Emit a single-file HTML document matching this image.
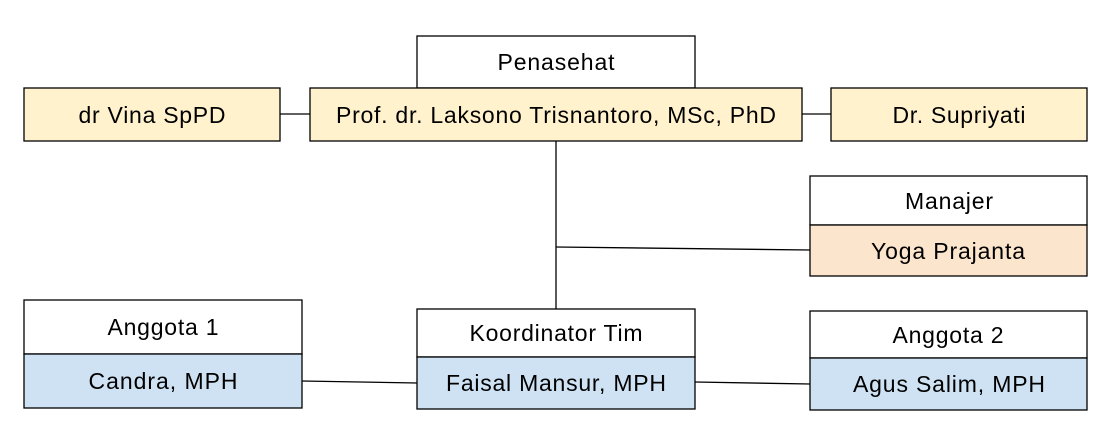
<!DOCTYPE html>
<html><head><style>body{margin:0;background:#fff}svg{display:block}text{font-family:"Liberation Sans",Arial,sans-serif;font-size:23px;fill:#000}</style></head><body>
<svg width="1110" height="438" viewBox="0 0 1110 438" xmlns="http://www.w3.org/2000/svg">
<g stroke="#000" stroke-width="1.3">
<line x1="280" y1="114" x2="310" y2="114"/>
<line x1="802" y1="114" x2="831" y2="114"/>
<line x1="556" y1="141" x2="556" y2="309"/>
<line x1="556" y1="247" x2="810" y2="250"/>
<line x1="302" y1="381" x2="417" y2="383"/>
<line x1="695" y1="382" x2="810" y2="384"/>
<rect x="417" y="36" width="278" height="52" fill="#fff"/>
<rect x="310" y="88" width="492" height="53" fill="#fff2cc"/>
<rect x="24" y="88" width="256" height="53" fill="#fff2cc"/>
<rect x="831" y="88" width="256" height="53" fill="#fff2cc"/>
<rect x="810" y="176" width="277" height="49" fill="#fff"/>
<rect x="810" y="225" width="277" height="51" fill="#fce5cd"/>
<rect x="24" y="300" width="278" height="54" fill="#fff"/>
<rect x="24" y="354" width="278" height="54" fill="#cfe2f3"/>
<rect x="417" y="309" width="278" height="48" fill="#fff"/>
<rect x="417" y="357" width="278" height="52" fill="#cfe2f3"/>
<rect x="810" y="311" width="277" height="47" fill="#fff"/>
<rect x="810" y="358" width="277" height="52" fill="#cfe2f3"/>
</g>
<g text-anchor="middle">
<text x="556" y="70" textLength="117">Penasehat</text>
<text x="556" y="123" textLength="440">Prof. dr. Laksono Trisnantoro, MSc, PhD</text>
<text x="152" y="123" textLength="147">dr Vina SpPD</text>
<text x="959" y="123" textLength="133">Dr. Supriyati</text>
<text x="949" y="209" textLength="88">Manajer</text>
<text x="948" y="259" textLength="154">Yoga Prajanta</text>
<text x="163" y="335" textLength="111">Anggota 1</text>
<text x="163" y="389" textLength="149">Candra, MPH</text>
<text x="556" y="341" textLength="173">Koordinator Tim</text>
<text x="556" y="391" textLength="220">Faisal Mansur, MPH</text>
<text x="948" y="343" textLength="111">Anggota 2</text>
<text x="949" y="392" textLength="192">Agus Salim, MPH</text>
</g>
</svg>
</body></html>
